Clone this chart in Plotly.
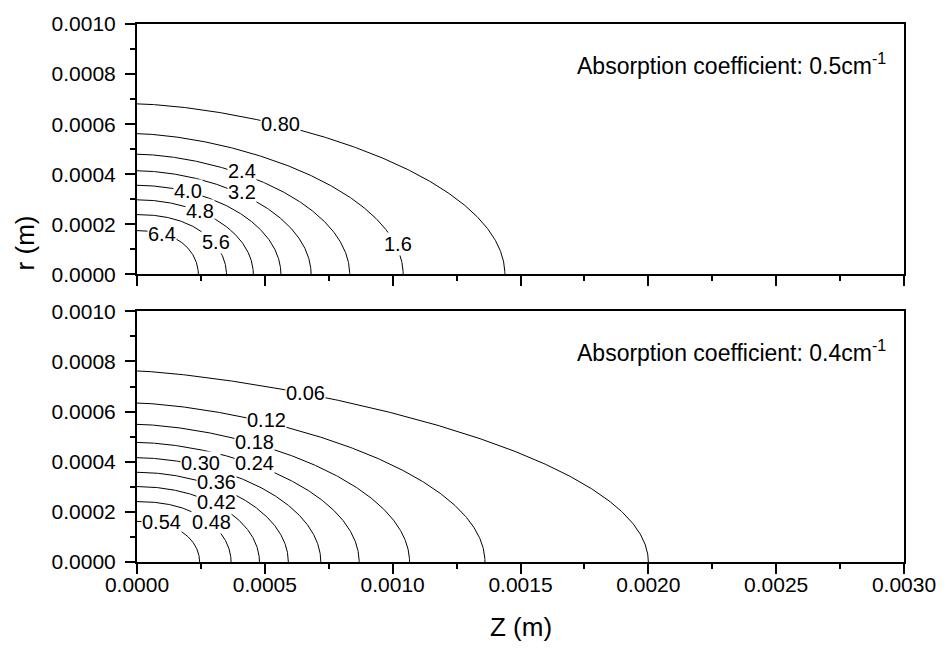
import numpy as np
import plotly.graph_objects as go
from plotly.subplots import make_subplots

# ---------------- data ----------------
# top panel: absorption coefficient 0.5 cm^-1
TOP_LEVELS = ["0.80", "1.6", "2.4", "3.2", "4.0", "4.8", "5.6", "6.4"]
TOP_Z_END = [0.001439, 0.001041, 0.000832, 0.000681, 0.000563, 0.000455, 0.000350, 0.000240]
TOP_R_START = [0.000681, 0.000562, 0.000480, 0.000414, 0.000356, 0.000298, 0.000239, 0.000175]
TOP_SHAPE = [1.55, 1.6, 1.7, 1.8, 1.9, 2.0, 2.2, 2.4]

# bottom panel: absorption coefficient 0.4 cm^-1
BOT_LEVELS = ["0.06", "0.12", "0.18", "0.24", "0.30", "0.36", "0.42", "0.48", "0.54"]
BOT_Z_END = [0.002000, 0.001361, 0.001066, 0.000869, 0.000719, 0.000592, 0.000479, 0.000368, 0.000245]
BOT_R_START = [0.000762, 0.000634, 0.000549, 0.000477, 0.000416, 0.000358, 0.000301, 0.000241, 0.000162]
BOT_SHAPE = [1.35, 1.5, 1.6, 1.7, 1.8, 1.9, 2.0, 2.2, 2.4]

# contour label placement (z, r)
TOP_LABEL_POS = [(0.000560, 0.000602), (0.001021, 0.000121), (0.000411, 0.000413),
                 (0.000411, 0.000330), (0.000199, 0.000333), (0.000248, 0.000254),
                 (0.000308, 0.000128), (0.0000984, 0.000161)]
BOT_LABEL_POS = [(0.000659, 0.000676), (0.000508, 0.000566), (0.000461, 0.000477),
                 (0.000461, 0.000394), (0.000249, 0.000394), (0.000309, 0.000318),
                 (0.000309, 0.000238), (0.000291, 0.000160), (0.0000976, 0.000160)]

X_TICKS = [0.0, 0.0005, 0.0010, 0.0015, 0.0020, 0.0025, 0.0030]
Y_TICKS = [0.0, 0.0002, 0.0004, 0.0006, 0.0008, 0.0010]

FONT = "Liberation Sans, Arial, sans-serif"

fig = make_subplots(rows=2, cols=1)


def contour_curve(z_end, r_start, p):
    th = np.linspace(0, np.pi / 2, 300)
    z = z_end * np.sin(th) ** (2.0 / p)
    r = r_start * np.cos(th)
    return z, r


for row, (zs, rs, ps) in enumerate([(TOP_Z_END, TOP_R_START, TOP_SHAPE),
                                     (BOT_Z_END, BOT_R_START, BOT_SHAPE)], start=1):
    for ze, r0, p in zip(zs, rs, ps):
        z, r = contour_curve(ze, r0, p)
        fig.add_trace(go.Scatter(x=z, y=r, mode="lines",
                                 line=dict(color="black", width=1),
                                 showlegend=False, hoverinfo="skip"),
                      row=row, col=1)

for levels, pos, xr, yr in [(TOP_LEVELS, TOP_LABEL_POS, "x", "y"),
                            (BOT_LEVELS, BOT_LABEL_POS, "x2", "y2")]:
    for lab, (zx, ry) in zip(levels, pos):
        fig.add_annotation(x=zx, y=ry, xref=xr, yref=yr, text=lab, showarrow=False,
                           font=dict(family=FONT, size=20, color="black"),
                           bgcolor="white", borderpad=0)

fig.add_annotation(x=0.979, y=0.841, xref="x domain", yref="y domain",
                   text="Absorption coefficient: 0.5cm<sup>-1</sup>", showarrow=False,
                   xanchor="right", yanchor="middle",
                   font=dict(family=FONT, size=23, color="black"))
fig.add_annotation(x=0.979, y=0.841, xref="x2 domain", yref="y2 domain",
                   text="Absorption coefficient: 0.4cm<sup>-1</sup>", showarrow=False,
                   xanchor="right", yanchor="middle",
                   font=dict(family=FONT, size=23, color="black"))

H_TOP, H_BOT, M_L, M_R = 20, 86, 137, 37
plot_h = 648 - H_TOP - H_BOT
plot_w = 948 - M_L - M_R

# axis titles
fig.add_annotation(x=(24 - M_L) / plot_w, y=(648 - H_BOT - 241) / plot_h,
                   xref="paper", yref="paper", text="r (m)", showarrow=False,
                   textangle=-90, xanchor="center", yanchor="middle",
                   font=dict(family=FONT, size=26, color="black"))
fig.add_annotation(x=0.5, y=(648 - H_BOT - 627) / plot_h, xref="paper", yref="paper",
                   text="Z (m)", showarrow=False, xanchor="center", yanchor="middle",
                   font=dict(family=FONT, size=26, color="black"))

axis_common = dict(showgrid=False, zeroline=False, showline=True, linecolor="black",
                   linewidth=2, mirror=True, ticks="outside", tickwidth=1.5,
                   tickcolor="black", ticklen=10,
                   tickfont=dict(family=FONT, size=21, color="black"))

fig.update_xaxes(**axis_common, range=[0, 0.003], tickvals=X_TICKS, tickformat=".4f",
                 ticklabelstandoff=-7,
                 minor=dict(ticks="outside", ticklen=5, tickwidth=1.5, tickcolor="black",
                            dtick=0.00025, tick0=0, showgrid=False))
fig.update_yaxes(**axis_common, range=[0, 0.001], tickvals=Y_TICKS, tickformat=".4f",
                 ticklabelstandoff=5,
                 minor=dict(ticks="outside", ticklen=5, tickwidth=1.5, tickcolor="black",
                            dtick=0.0001, tick0=0, showgrid=False))
fig.update_xaxes(showticklabels=False, row=1, col=1)

fig.update_layout(
    width=948, height=648,
    margin=dict(l=M_L, r=M_R, t=H_TOP, b=H_BOT),
    paper_bgcolor="white", plot_bgcolor="white",
    showlegend=False,
    font=dict(family=FONT, color="black"),
)
fig.update_layout(yaxis=dict(domain=[0.5345, 1.0]), yaxis2=dict(domain=[0.0, 0.466]),
                  xaxis=dict(domain=[0, 1]), xaxis2=dict(domain=[0, 1]))

fig.write_html("out.html")
